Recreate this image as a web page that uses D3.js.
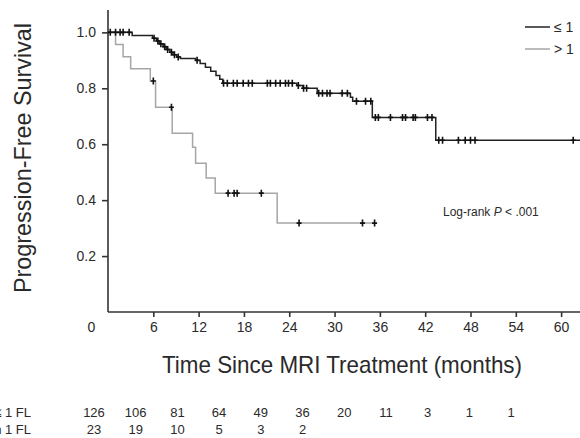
<!DOCTYPE html>
<html>
<head>
<meta charset="utf-8">
<script src="https://cdn.jsdelivr.net/npm/d3@7"></script>
<style>
  body { margin: 0; background: #fff; }
  text { font-family: "Liberation Sans", Arial, sans-serif; fill: #2a2a2a; }
</style>
</head>
<body>
<div id="vis"></div>
<script>
// data
const groups = ['\u2264 1 FL', 'More than 1 FL'];
const legendLabels = ['\u2264 1', '> 1'];
const xTicks = [0, 6, 12, 18, 24, 30, 36, 42, 48, 54, 60];
const yTicks = [0.2, 0.4, 0.6, 0.8, 1.0];

// <= 1 FL : step times and survival after each step
const lowTimes = [3.2, 5.9, 6.4, 6.8, 7.3, 7.7, 8.2, 8.6, 9.1, 9.6, 11.6, 12.2, 12.9, 13.6, 14.3, 14.8, 15.2,
  25.0, 25.8, 27.7, 32.1, 32.4, 35.0, 43.4];
const lowSurv = [0.989, 0.979, 0.969, 0.959, 0.949, 0.939, 0.929, 0.920, 0.912, 0.907, 0.900, 0.889, 0.875,
  0.861, 0.846, 0.832, 0.818, 0.810, 0.800, 0.782, 0.768, 0.754, 0.696, 0.614];
const lowEnd = 62.5;
const lowCensor = [0.3, 1.0, 1.6, 2.0, 2.8, 6.1, 6.6, 7.0, 7.5, 7.9, 8.4, 8.8, 9.3, 11.8, 15.3, 15.8, 16.6,
  17.1, 17.9, 18.6, 19.1, 21.1, 21.5, 22.2, 22.8, 23.5, 23.9, 24.4, 25.2, 25.9, 26.3, 27.9, 28.4, 29.0, 29.4,
  31.0, 31.7, 32.9, 34.1, 34.8, 35.4, 35.8, 37.4, 39.0, 39.4, 40.4, 40.7, 42.3, 42.9, 43.8, 44.3, 46.4, 47.3,
  48.0, 48.6, 61.6];

// > 1 FL
const highTimes = [1.0, 2.0, 3.0, 5.6, 6.3, 8.5, 11.2, 11.6, 13.0, 14.2, 22.4];
const highSurv = [0.957, 0.913, 0.870, 0.826, 0.732, 0.639, 0.589, 0.532, 0.479, 0.425, 0.318];
const highEnd = 35.3;
const highCensor = [6.0, 8.4, 15.9, 16.7, 17.1, 20.3, 25.3, 33.7, 35.3];

// numbers at risk
const riskTimes = [0, 6, 12, 18, 24, 30, 36, 42, 48, 54, 60];
const lowRisk = [126, 106, 81, 64, 49, 36, 20, 11, 3, 1, 1];
const highRisk = [23, 19, 10, 5, 3, 2];

const W = 580, H = 438;
const svg = d3.select('#vis').append('svg')
  .attr('width', W).attr('height', H);

const x = d3.scaleLinear().domain([0, 62.5]).range([108, 580]);
const y = d3.scaleLinear().domain([0, 1.08]).range([312, 10]);
// at-risk columns are spaced on their own in the figure
const xRisk = d3.scaleLinear().domain([0, 60]).range([94, 511]);

// axes
const xAxis = d3.axisBottom(x).tickValues(xTicks).tickSize(5).tickPadding(5).tickFormat(d3.format('d'));
const gx = svg.append('g').attr('transform', `translate(0,${y(0)})`).call(xAxis);
gx.select('.domain').attr('d', `M${x(0)},0H${W}`);
gx.selectAll('.tick line').filter(d => d === 0).remove();
gx.selectAll('.tick text').filter(d => d === 0).attr('dx', -17);

const yAxis = d3.axisLeft(y).tickValues(yTicks).tickSize(6).tickPadding(6).tickFormat(d3.format('.1f'));
const gy = svg.append('g').attr('transform', `translate(${x(0)},0)`).call(yAxis);
gy.select('.domain').attr('d', `M0,${y(0)}V${y(1.08)}`);

svg.selectAll('.domain, .tick line').attr('stroke', '#333').attr('stroke-width', 1.6);
svg.selectAll('.tick text').style('font-size', '14px').style('fill', '#2a2a2a');

// axis titles
svg.append('text')
  .attr('transform', `translate(31,158) rotate(-90)`)
  .attr('text-anchor', 'middle')
  .attr('textLength', 270).attr('lengthAdjust', 'spacingAndGlyphs')
  .style('font-size', '24px')
  .text('Progression-Free Survival');

svg.append('text')
  .attr('x', 342).attr('y', 373)
  .attr('text-anchor', 'middle')
  .attr('textLength', 360).attr('lengthAdjust', 'spacingAndGlyphs')
  .style('font-size', '24px')
  .text('Time Since MRI Treatment (months)');

// survival curves
function stepPoints(times, surv, end) {
  const pts = [[0, 1]];
  times.forEach((t, i) => pts.push([t, surv[i]]));
  pts.push([end, surv[surv.length - 1]]);
  return pts;
}
function survAt(times, surv, t) {
  const i = d3.bisectRight(times, t);
  return i === 0 ? 1 : surv[i - 1];
}
const line = d3.line().x(d => x(d[0])).y(d => y(d[1])).curve(d3.curveStepAfter);

const series = [
  {name: groups[1], times: highTimes, surv: highSurv, end: highEnd, censor: highCensor, color: '#a6a6a6'},
  {name: groups[0], times: lowTimes, surv: lowSurv, end: lowEnd, censor: lowCensor, color: '#222'}
];

series.forEach(s => {
  svg.append('path')
    .attr('d', line(stepPoints(s.times, s.surv, s.end)))
    .attr('fill', 'none')
    .attr('stroke', s.color)
    .attr('stroke-width', 1.5);

  svg.selectAll(null)
    .data(s.censor)
    .join('path')
    .attr('d', t => {
      const cx = x(t), cy = y(survAt(s.times, s.surv, t));
      return `M${cx},${cy - 3.5}V${cy + 3.5}M${cx - 2.5},${cy}H${cx + 2.5}`;
    })
    .attr('stroke', '#111')
    .attr('stroke-width', 1.6);
});

// legend (the figure is cropped just after "1")
const legend = [{label: legendLabels[0], color: '#222', y: 27}, {label: legendLabels[1], color: '#a6a6a6', y: 49}];
legend.forEach(l => {
  svg.append('line')
    .attr('x1', 525).attr('x2', 550).attr('y1', l.y).attr('y2', l.y)
    .attr('stroke', l.color).attr('stroke-width', 1.5);
  svg.append('text')
    .attr('x', 554).attr('y', l.y + 5)
    .style('font-size', '14px')
    .text(l.label);
});

// log-rank
const lr = svg.append('text').attr('x', 443).attr('y', 216).style('font-size', '12px');
lr.append('tspan').text('Log-rank ');
lr.append('tspan').style('font-style', 'italic').text('P');
lr.append('tspan').text(' < .001');

// numbers at risk (row labels run off the left edge, as in the figure)
const riskRows = [
  {label: groups[0], values: lowRisk, y: 417},
  {label: groups[1], values: highRisk, y: 434}
];
riskRows.forEach(r => {
  svg.append('text')
    .attr('x', 31).attr('y', r.y)
    .attr('text-anchor', 'end')
    .style('font-size', '13px')
    .text(r.label);
  svg.selectAll(null)
    .data(r.values)
    .join('text')
    .attr('x', (d, i) => xRisk(riskTimes[i]))
    .attr('y', r.y)
    .attr('text-anchor', 'middle')
    .style('font-size', '13px')
    .text(d => d);
});
</script>
</body>
</html>
